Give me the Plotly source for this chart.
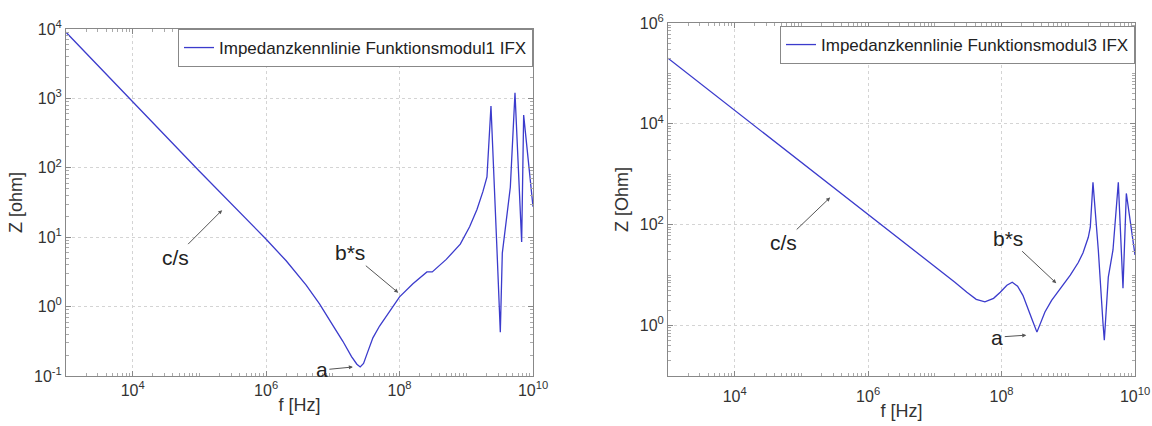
import math
import plotly.graph_objects as go

# ---- data (log10 of frequency in Hz, log10 of impedance) ----
f1_log = [3.0, 4.0, 5.0, 6.0, 6.3, 6.6, 6.8, 7.0, 7.15, 7.28, 7.36, 7.41, 7.46, 7.52, 7.6, 7.7, 7.81,
          8.0, 8.2, 8.41, 8.49, 8.7, 8.91, 9.05, 9.16, 9.25, 9.31, 9.34, 9.37,
          9.46, 9.51, 9.54, 9.66, 9.73, 9.83, 9.86, 10.0]
z1_log = [3.954, 2.95, 1.95, 0.97, 0.66, 0.31, 0.04, -0.27, -0.50, -0.72, -0.83, -0.87, -0.82, -0.66, -0.45, -0.28, -0.12,
          0.14, 0.33, 0.50, 0.50, 0.68, 0.90, 1.15, 1.40, 1.66, 1.87, 2.30, 2.89,
          0.82, -0.37, 0.77, 1.72, 3.08, 0.93, 2.76, 1.44]

f3_log = [3.0, 4.0, 5.0, 6.0, 6.5, 7.0, 7.3, 7.48, 7.62, 7.75, 7.88, 7.98, 8.08, 8.16,
          8.24, 8.32, 8.40, 8.46, 8.53, 8.58, 8.65, 8.75, 8.9, 9.03, 9.15, 9.22,
          9.3, 9.33, 9.37, 9.45, 9.52, 9.54, 9.60, 9.67, 9.75, 9.82, 9.87, 10.0]
z3_log = [5.30, 4.27, 3.24, 2.21, 1.70, 1.18, 0.86, 0.66, 0.52, 0.47, 0.54, 0.66, 0.80, 0.86,
          0.78, 0.60, 0.30, 0.11, -0.13, 0.05, 0.27, 0.50, 0.78, 1.00, 1.25, 1.44,
          1.75, 1.95, 2.84, 1.50, 0.05, -0.29, 0.96, 1.50, 2.84, 0.74, 2.62, 1.40]

f1 = [10 ** v for v in f1_log]
z1 = [10 ** v for v in z1_log]
f3 = [10 ** v for v in f3_log]
z3 = [10 ** v for v in z3_log]

x_tickvals = [1e4, 1e6, 1e8, 1e10]
x_ticktext = ["10<sup>4</sup>", "10<sup>6</sup>", "10<sup>8</sup>", "10<sup>10</sup>"]
y1_tickvals = [1e-1, 1e0, 1e1, 1e2, 1e3, 1e4]
y1_ticktext = ["10<sup>-1</sup>", "10<sup>0</sup>", "10<sup>1</sup>", "10<sup>2</sup>",
               "10<sup>3</sup>", "10<sup>4</sup>"]
y3_tickvals = [1e0, 1e2, 1e4, 1e6]
y3_ticktext = ["10<sup>0</sup>", "10<sup>2</sup>", "10<sup>4</sup>", "10<sup>6</sup>"]

name1 = "Impedanzkennlinie Funktionsmodul1 IFX"
name3 = "Impedanzkennlinie Funktionsmodul3 IFX"

# annotations: (label, head x, head y, tail offset ax, ay)
ann1 = [("c/s", 10 ** 5.34, 10 ** 1.39, -47, 47),
        ("b*s", 10 ** 7.98, 10 ** 0.20, -48, -40),
        ("a", 10 ** 7.30, 10 ** -0.87, -31, 3)]
ann3 = [("c/s", 10 ** 5.43, 10 ** 2.54, -47, 45),
        ("b*s", 10 ** 8.82, 10 ** 0.84, -48, -45),
        ("a", 10 ** 8.37, 10 ** -0.19, -29, 2)]

W, H = 1152, 426
FONT = "Arial, Liberation Sans, sans-serif"
LINE = "#3b3bcc"

fig = go.Figure()
fig.add_trace(go.Scatter(x=f1, y=z1, mode="lines", name=name1,
                         line=dict(color=LINE, width=1.3),
                         xaxis="x", yaxis="y", legend="legend"))
fig.add_trace(go.Scatter(x=f3, y=z3, mode="lines", name=name3,
                         line=dict(color=LINE, width=1.3),
                         xaxis="x2", yaxis="y2", legend="legend2"))


def xaxis_style(domain, anchor, lblstandoff):
    return dict(type="log", range=[3, 10], domain=domain, anchor=anchor,
                tickmode="array", tickvals=x_tickvals, ticktext=x_ticktext,
                ticks="inside", ticklen=5, tickcolor="#888",
                minor=dict(ticks="inside", ticklen=3, tickcolor="#aaa", dtick="D1", showgrid=False),
                showgrid=True, gridcolor="#d4d4d4", griddash="dot", gridwidth=1,
                showline=True, linecolor="#888", linewidth=1, mirror="ticks",
                zeroline=False, automargin=False, ticklabelstandoff=lblstandoff,
                tickfont=dict(family=FONT, size=16, color="#333"),
                title=dict(text="f [Hz]", font=dict(family=FONT, size=18, color="#333"), standoff=0))


def yaxis_style(domain, anchor, rng, tv, tt, title):
    return dict(type="log", range=rng, domain=domain, anchor=anchor,
                tickmode="array", tickvals=tv, ticktext=tt,
                ticks="inside", ticklen=5, tickcolor="#888",
                minor=dict(ticks="inside", ticklen=3, tickcolor="#aaa", dtick="D1", showgrid=False),
                showgrid=True, gridcolor="#d4d4d4", griddash="dot", gridwidth=1,
                showline=True, linecolor="#888", linewidth=1, mirror="ticks",
                zeroline=False, automargin=False,
                tickfont=dict(family=FONT, size=16, color="#333"),
                title=dict(text=title, font=dict(family=FONT, size=18, color="#333"), standoff=6))


left_x = [66 / W, 533 / W]
right_x = [668 / W, 1135 / W]
left_y = [1 - 376 / H, 1 - 29 / H]
right_y = [1 - 376 / H, 1 - 23 / H]

annotations = []
for (lab, hx, hy, ax, ay), (xr, yr) in [(a, ("x", "y")) for a in ann1] + [(a, ("x2", "y2")) for a in ann3]:
    annotations.append(dict(x=math.log10(hx), y=math.log10(hy),
                            xref=xr, yref=yr, text=lab, showarrow=True,
                            ax=ax, ay=ay, arrowhead=2, arrowsize=0.8, arrowwidth=1,
                            arrowcolor="#555", standoff=0, startstandoff=0,
                            font=dict(family=FONT, size=21, color="#222")))

fig.update_layout(
    width=W, height=H, autosize=False,
    margin=dict(l=0, r=0, t=0, b=0),
    paper_bgcolor="white", plot_bgcolor="white",
    xaxis=xaxis_style(left_x, "y", 0),
    yaxis=yaxis_style(left_y, "x", [-1, 4], y1_tickvals, y1_ticktext, "Z [ohm]"),
    xaxis2=xaxis_style(right_x, "y2", 6),
    yaxis2=yaxis_style(right_y, "x2", [-1, 6], y3_tickvals, y3_ticktext, "Z [Ohm]"),
    legend=dict(x=533 / W, y=1 - 29 / H, xanchor="right", yanchor="top",
                bgcolor="white", bordercolor="#888", borderwidth=1,
                font=dict(family=FONT, size=17, color="#222"),
                itemwidth=30, tracegroupgap=0),
    legend2=dict(x=1135 / W, y=1 - 26 / H, xanchor="right", yanchor="top",
                 bgcolor="white", bordercolor="#888", borderwidth=1,
                 font=dict(family=FONT, size=17, color="#222"),
                 itemwidth=30, tracegroupgap=0),
    annotations=annotations,
    showlegend=True,
)

fig.write_html("out.html")
